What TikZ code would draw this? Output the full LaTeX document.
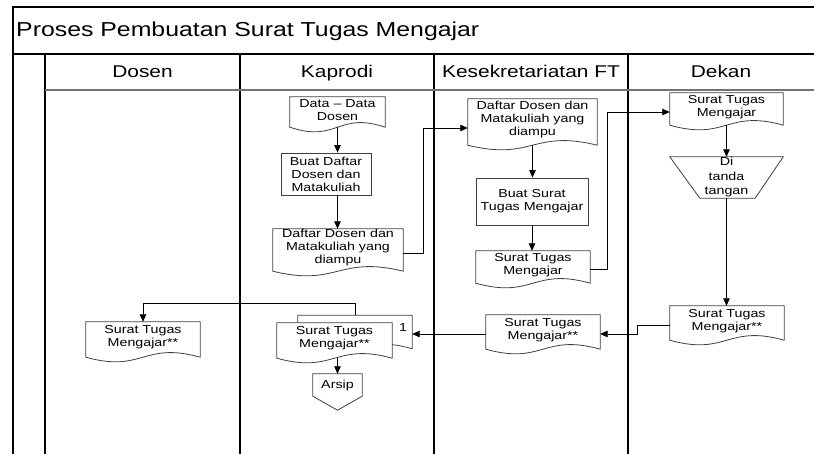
\documentclass[tikz,border=0pt]{standalone}
\usepackage{fontspec}
\setmainfont{Liberation Sans}[FakeStretch=1.23]
\usetikzlibrary{arrows.meta,calc}
\pgfdeclarelayer{bg}
\pgfdeclarelayer{shp}
\pgfsetlayers{bg,shp,main}
\newcommand\mybody{\fontsize{11.6}{13}\selectfont}
\newcommand\mybodyloose{\fontsize{11.6}{14.5}\selectfont}
\newcommand\myhead{\fontsize{17}{20}\selectfont}
\newcommand\mytitle{\fontsize{20.2}{24}\selectfont}
\newcommand\docdraw[2][]{\draw[shpline,#1] (#2.north west) -- (#2.north east) -- ([yshift=-4pt]#2.south east) .. controls ([yshift=12pt]#2.south) and ([yshift=-20pt]#2.south) .. ([yshift=-4pt]#2.south west) -- cycle;}
\begin{document}
\begin{tikzpicture}[x=1pt,y=-1pt,
  shpline/.style={draw=black!75, line width=0.8pt},
  arr/.style={draw=black, line width=0.8pt, -{Triangle[length=7.5pt,width=6.5pt]}},
  docn/.style={inner sep=0pt, align=center, font=\mybody},
  boxn/.style={docn, draw=black!75, line width=0.8pt},
  lane/.style={draw=black, line width=1.5pt},
  hdrline/.style={draw=black!55, line width=1.3pt},
  hdr/.style={anchor=base, font=\myhead, inner sep=0pt}]
\useasboundingbox (0,0) rectangle (814,454);
\begin{pgfonlayer}{bg}
  \fill[white] (0,0) rectangle (814,454);
  \draw[draw=black, line width=1.2pt] (13,7) -- (814,7);
  \draw[lane] (13,6.4) -- (13,454);
  \draw[draw=black, line width=2pt] (13,54) -- (814,54);
  \draw[lane] (45,54) -- (45,454);
  \draw[lane] (240,54) -- (240,454);
  \draw[lane] (434,54) -- (434,454);
  \draw[lane] (628,54) -- (628,454);
  \draw[hdrline] (45,90) -- (814,90);
\end{pgfonlayer}

% title and headers
\node[anchor=base west, font=\mytitle, inner sep=0pt] (title) at (16,36.7) {Proses Pembuatan Surat Tugas Mengajar};
\node[hdr] (hdosen) at (142.5,78) {Dosen};
\node[hdr] (hkap) at (337,78) {Kaprodi};
\node[hdr] (hkes) at (531,78) {Kesekretariatan FT};
\node[hdr] (hdek) at (721,78) {Dekan};

% Kaprodi
\node[docn, minimum width=95, minimum height=26] (dd) at (337.5,110) {Data – Data\\Dosen};
\node[boxn, minimum width=90, minimum height=42] (bd) at (326,174) {Buat Daftar\\Dosen dan\\Matakuliah};
\node[docn, minimum width=130, minimum height=38] (dl) at (338,248) {Daftar Dosen dan\\Matakuliah yang\\diampu};

% Kesekretariatan
\node[docn, minimum width=129, minimum height=42] (dk) at (532.5,120) {Daftar Dosen dan\\Matakuliah yang\\diampu};
\node[boxn, minimum width=112, minimum height=47] (bs) at (532,201.5) {Buat Surat\\Tugas Mengajar};
\node[docn, minimum width=114, minimum height=28] (ds) at (533,265) {Surat Tugas\\Mengajar};

% Dekan
\node[docn, minimum width=113, minimum height=28] (dt) at (726.5,107) {Surat Tugas\\Mengajar};
\node[docn, font=\mybodyloose, minimum width=113, minimum height=41] (sg) at (726.5,177.5) {Di\\tanda\\tangan};
\node[docn, minimum width=114, minimum height=30] (d9) at (727,321) {Surat Tugas\\Mengajar**};

% bottom row
\node[docn, minimum width=114, minimum height=30] (d10) at (543,330) {Surat Tugas\\Mengajar**};
\node[docn, minimum width=114, minimum height=29] (mb) at (355,330) {};
\node[docn, minimum width=115, minimum height=31] (mf) at (334.5,338.5) {Surat Tugas\\Mengajar**};
\node[docn] (n1) at (403,328) {1};
\node[docn, minimum width=114, minimum height=31] (dsn) at (143,337.5) {Surat Tugas\\Mengajar**};
\node[docn, minimum width=49, minimum height=22] (ar) at (337.5,385) {Arsip};

\begin{pgfonlayer}{shp}
  \docdraw{dd}
  \docdraw{dl}
  \docdraw{dk}
  \docdraw{ds}
  \docdraw{dt}
  \docdraw{d9}
  \docdraw{d10}
  \docdraw[fill=white]{mb}
  \docdraw[fill=white]{mf}
  \docdraw{dsn}
  \draw[shpline] (sg.north west) -- (sg.north east) -- ([xshift=-28pt]sg.south east) -- ([xshift=30pt]sg.south west) -- cycle;
  \draw[shpline] (ar.north west) -- (ar.north east) -- (ar.south east) -- ([yshift=-14pt]ar.south) -- (ar.south west) -- cycle;
\end{pgfonlayer}

% connectors
\draw[arr] ([yshift=-4pt]dd.south) -- (dd.south |- bd.north);
\draw[arr] (dd.south |- bd.south) -- (dd.south |- dl.north);
\draw[arr] ([yshift=-5pt]dl.east) -- ++(20,0) |- ([yshift=-8pt]dk.west);
\draw[arr] ([yshift=-4pt]dk.south) -- (dk.south |- bs.north);
\draw[arr] (bs.south) -- (bs.south |- ds.north);
\draw[arr] ([yshift=-4pt]ds.east) -- ++(17,0) |- ([yshift=-5pt]dt.west);
\draw[arr] ([yshift=-4pt]dt.south) -- (sg.north);
\draw[arr] (sg.south) -- (sg.south |- d9.north);
\draw[arr] ([yshift=-4pt]d9.west) -- ++(-32,0) |- ([yshift=-4pt]d10.east);
\draw[arr] ([yshift=-4pt]d10.west) -- ([yshift=-4pt]mb.east);
\draw[arr] (mb.north) -- ++(0,-12) -| (dsn.north);
\draw[arr] ([xshift=3pt,yshift=-4pt]mf.south) -- (ar.north);
\end{tikzpicture}
\end{document}
